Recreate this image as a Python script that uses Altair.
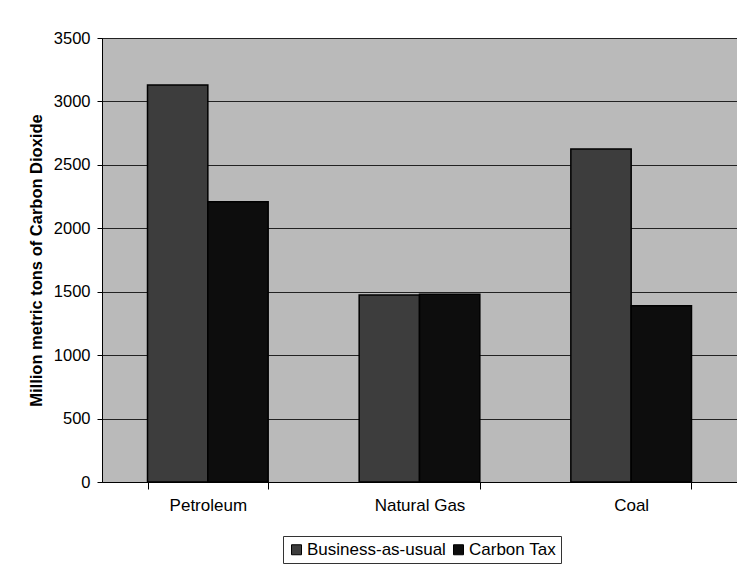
import altair as alt
import pandas as pd

categories = ["Petroleum", "Natural Gas", "Coal"]
series = ["Business-as-usual", "Carbon Tax"]
bau = [3130, 1475, 2625]
tax = [2210, 1480, 1390]
y_ticks = [0, 500, 1000, 1500, 2000, 2500, 3000, 3500]

rows = []
for c, b, t in zip(categories, bau, tax):
    rows.append({"Fuel": c, "Scenario": series[0], "Value": b})
    rows.append({"Fuel": c, "Scenario": series[1], "Value": t})
df = pd.DataFrame(rows)

FONT = "Liberation Sans"

bars = alt.Chart(df).mark_bar(stroke="black", strokeWidth=1.5).encode(
    x=alt.X("Fuel:N", sort=categories, title=None,
            scale=alt.Scale(paddingInner=0.43, paddingOuter=0.215),
            axis=alt.Axis(labelAngle=0, labelFont=FONT, labelFontSize=17,
                          labelColor="black", labelPadding=8, tickBand="extent",
                          tickColor="black", domainColor="black", tickSize=7,
                          tickWidth=1)),
    xOffset=alt.XOffset("Scenario:N", sort=series),
    y=alt.Y("Value:Q", title="Million metric tons of Carbon Dioxide",
            scale=alt.Scale(domain=[0, 3500]),
            axis=alt.Axis(values=y_ticks, format="d",
                          labelFont=FONT, labelFontSize=16.5, labelColor="black",
                          titleFont=FONT, titleFontSize=16.5, titleFontWeight="bold",
                          titleColor="black", titlePadding=9, labelPadding=7,
                          gridColor="#222222", gridWidth=1, tickColor="black",
                          domainColor="black", tickSize=5)),
    color=alt.Color("Scenario:N", sort=series,
                    scale=alt.Scale(domain=series, range=["#3d3d3d", "#0d0d0d"]),
                    legend=alt.Legend(title=None, orient="none", legendX=181, legendY=498,
                                      direction="horizontal", symbolType="square",
                                      symbolSize=100, symbolStrokeColor="black",
                                      symbolStrokeWidth=1,
                                      labelFont=FONT, labelFontSize=17,
                                      labelColor="black", strokeColor="#333333",
                                      padding=5, columnPadding=4, labelOffset=2)),
)

chart = bars.properties(
    width=635, height=444,
    autosize=alt.AutoSizeParams(type="none"),
    padding={"left": 94, "top": 30, "right": 0, "bottom": 88},
).configure_view(fill="#bababa", stroke="#333333", strokeWidth=1)

chart.save("out.html", embed_options={"renderer": "svg", "actions": False})
